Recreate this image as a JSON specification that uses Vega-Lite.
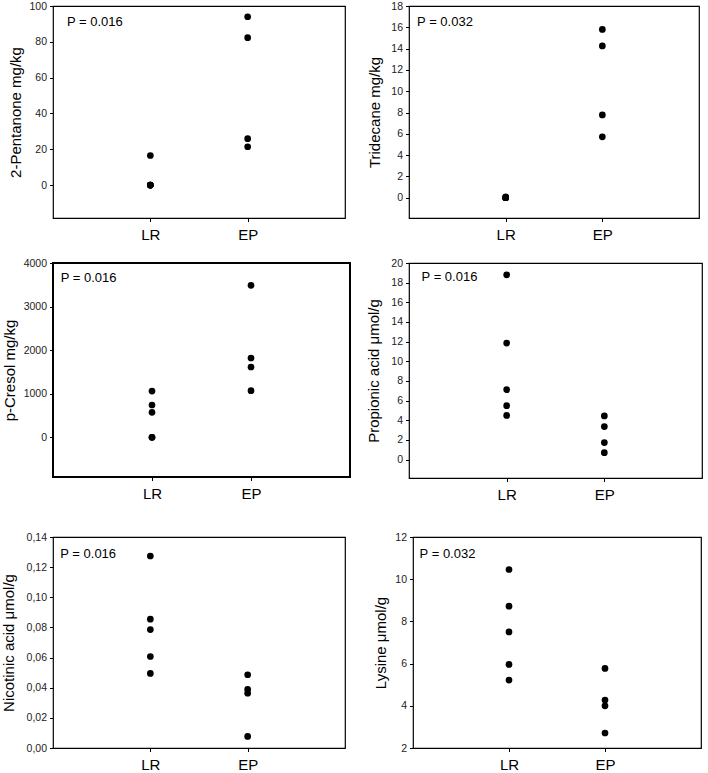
{
  "$schema": "https://vega.github.io/schema/vega-lite/v6.json",
  "padding": {"left": 1, "top": 0, "right": 0, "bottom": 0},
  "background": "white",
  "datasets": {
    "points": [
      {"panel": "p1", "group": "LR", "value": 16.5},
      {"panel": "p1", "group": "LR", "value": 0},
      {"panel": "p1", "group": "LR", "value": 0},
      {"panel": "p1", "group": "LR", "value": 0},
      {"panel": "p1", "group": "LR", "value": 0},
      {"panel": "p1", "group": "EP", "value": 94},
      {"panel": "p1", "group": "EP", "value": 82.3},
      {"panel": "p1", "group": "EP", "value": 25.9},
      {"panel": "p1", "group": "EP", "value": 21.4},
      {"panel": "p2", "group": "LR", "value": 0.08},
      {"panel": "p2", "group": "LR", "value": 0},
      {"panel": "p2", "group": "LR", "value": 0},
      {"panel": "p2", "group": "LR", "value": 0},
      {"panel": "p2", "group": "LR", "value": 0},
      {"panel": "p2", "group": "EP", "value": 15.8},
      {"panel": "p2", "group": "EP", "value": 14.25},
      {"panel": "p2", "group": "EP", "value": 7.78},
      {"panel": "p2", "group": "EP", "value": 5.72},
      {"panel": "p3", "group": "LR", "value": 1062},
      {"panel": "p3", "group": "LR", "value": 741},
      {"panel": "p3", "group": "LR", "value": 573},
      {"panel": "p3", "group": "LR", "value": 0},
      {"panel": "p3", "group": "LR", "value": 0},
      {"panel": "p3", "group": "EP", "value": 3488},
      {"panel": "p3", "group": "EP", "value": 1820},
      {"panel": "p3", "group": "EP", "value": 1613},
      {"panel": "p3", "group": "EP", "value": 1070},
      {"panel": "p4", "group": "LR", "value": 18.8},
      {"panel": "p4", "group": "LR", "value": 11.86},
      {"panel": "p4", "group": "LR", "value": 7.12},
      {"panel": "p4", "group": "LR", "value": 5.49},
      {"panel": "p4", "group": "LR", "value": 4.5},
      {"panel": "p4", "group": "EP", "value": 4.44},
      {"panel": "p4", "group": "EP", "value": 3.36},
      {"panel": "p4", "group": "EP", "value": 1.73},
      {"panel": "p4", "group": "EP", "value": 0.71},
      {"panel": "p5", "group": "LR", "value": 0.1274},
      {"panel": "p5", "group": "LR", "value": 0.0855},
      {"panel": "p5", "group": "LR", "value": 0.0786},
      {"panel": "p5", "group": "LR", "value": 0.0607},
      {"panel": "p5", "group": "LR", "value": 0.0495},
      {"panel": "p5", "group": "EP", "value": 0.0486},
      {"panel": "p5", "group": "EP", "value": 0.0389},
      {"panel": "p5", "group": "EP", "value": 0.0364},
      {"panel": "p5", "group": "EP", "value": 0.0077},
      {"panel": "p6", "group": "LR", "value": 10.46},
      {"panel": "p6", "group": "LR", "value": 8.72},
      {"panel": "p6", "group": "LR", "value": 7.5},
      {"panel": "p6", "group": "LR", "value": 5.96},
      {"panel": "p6", "group": "LR", "value": 5.22},
      {"panel": "p6", "group": "EP", "value": 5.77},
      {"panel": "p6", "group": "EP", "value": 4.27},
      {"panel": "p6", "group": "EP", "value": 4.0},
      {"panel": "p6", "group": "EP", "value": 2.71}
    ],
    "pvals": [
      {"panel": "p1", "label": "P = 0.016"},
      {"panel": "p2", "label": "P = 0.032"},
      {"panel": "p3", "label": "P = 0.016"},
      {"panel": "p4", "label": "P = 0.016"},
      {"panel": "p5", "label": "P = 0.016"},
      {"panel": "p6", "label": "P = 0.032"}
    ]
  },
  "vconcat": [
    {
      "vconcat": [
        {
          "hconcat": [
            {
              "width": 292, "height": 212,
              "layer": [
                {
                  "data": {"name": "points"},
                  "transform": [{"filter": "datum.panel === 'p1'"}],
                  "mark": {"type": "circle", "size": 45, "color": "black", "opacity": 1},
                  "encoding": {
                    "x": {"field": "group", "type": "nominal", "sort": ["LR", "EP"], "scale": {"type": "point", "padding": 1}, "axis": {"title": null}},
                    "y": {"field": "value", "type": "quantitative", "scale": {"domain": [-18.4, 100], "nice": false, "zero": false}, "axis": {"title": "2-Pentanone mg/kg", "values": [0, 20, 40, 60, 80, 100], "tickCount": 40, "format": "d", "titlePadding": 5.4}}
                  }
                },
                {
                  "data": {"name": "pvals"},
                  "transform": [{"filter": "datum.panel === 'p1'"}],
                  "mark": {"type": "text", "align": "left", "baseline": "middle", "fontSize": 13, "font": "Liberation Sans", "color": "black"},
                  "encoding": {
                    "x": {"datum": 0.048, "type": "quantitative", "scale": {"domain": [0, 1]}, "axis": null},
                    "y": {"datum": 91.2, "type": "quantitative"},
                    "text": {"field": "label"}
                  }
                }
              ],
              "resolve": {"scale": {"x": "independent"}}
            },
            {
              "width": 290, "height": 212,
              "layer": [
                {
                  "data": {"name": "points"},
                  "transform": [{"filter": "datum.panel === 'p2'"}],
                  "mark": {"type": "circle", "size": 45, "color": "black", "opacity": 1},
                  "encoding": {
                    "x": {"field": "group", "type": "nominal", "sort": ["LR", "EP"], "scale": {"type": "point", "padding": 1}, "axis": {"title": null}},
                    "y": {"field": "value", "type": "quantitative", "scale": {"domain": [-1.9, 18], "nice": false, "zero": false}, "axis": {"title": "Tridecane mg/kg", "values": [0, 2, 4, 6, 8, 10, 12, 14, 16, 18], "tickCount": 40, "format": "d", "titlePadding": 8.5}}
                  }
                },
                {
                  "data": {"name": "pvals"},
                  "transform": [{"filter": "datum.panel === 'p2'"}],
                  "mark": {"type": "text", "align": "left", "baseline": "middle", "fontSize": 13, "font": "Liberation Sans", "color": "black"},
                  "encoding": {
                    "x": {"datum": 0.028, "type": "quantitative", "scale": {"domain": [0, 1]}, "axis": null},
                    "y": {"datum": 16.53, "type": "quantitative"},
                    "text": {"field": "label"}
                  }
                }
              ],
              "resolve": {"scale": {"x": "independent"}}
            }
          ],
          "spacing": 20
        },
        {
          "hconcat": [
            {
              "width": 297, "height": 214,
              "view": {"stroke": "black", "strokeWidth": 2},
              "layer": [
                {
                  "data": {"name": "points"},
                  "transform": [{"filter": "datum.panel === 'p3'"}],
                  "mark": {"type": "circle", "size": 45, "color": "black", "opacity": 1},
                  "encoding": {
                    "x": {"field": "group", "type": "nominal", "sort": ["LR", "EP"], "scale": {"type": "point", "padding": 1}, "axis": {"title": null}},
                    "y": {"field": "value", "type": "quantitative", "scale": {"domain": [-911, 4000], "nice": false, "zero": false}, "axis": {"title": "p-Cresol mg/kg", "values": [0, 1000, 2000, 3000, 4000], "tickCount": 40, "format": "d", "titlePadding": 5.8}}
                  }
                },
                {
                  "data": {"name": "pvals"},
                  "transform": [{"filter": "datum.panel === 'p3'"}],
                  "mark": {"type": "text", "align": "left", "baseline": "middle", "fontSize": 13, "font": "Liberation Sans", "color": "black"},
                  "encoding": {
                    "x": {"datum": 0.026, "type": "quantitative", "scale": {"domain": [0, 1]}, "axis": null},
                    "y": {"datum": 3656, "type": "quantitative"},
                    "text": {"field": "label"}
                  }
                }
              ],
              "resolve": {"scale": {"x": "independent"}}
            },
            {
              "width": 293, "height": 215,
              "layer": [
                {
                  "data": {"name": "points"},
                  "transform": [{"filter": "datum.panel === 'p4'"}],
                  "mark": {"type": "circle", "size": 45, "color": "black", "opacity": 1},
                  "encoding": {
                    "x": {"field": "group", "type": "nominal", "sort": ["LR", "EP"], "scale": {"type": "point", "padding": 1}, "axis": {"title": null}},
                    "y": {"field": "value", "type": "quantitative", "scale": {"domain": [-1.87, 20], "nice": false, "zero": false}, "axis": {"title": "Propionic acid μmol/g", "values": [0, 2, 4, 6, 8, 10, 12, 14, 16, 18, 20], "tickCount": 40, "format": "d", "titlePadding": 9.1}}
                  }
                },
                {
                  "data": {"name": "pvals"},
                  "transform": [{"filter": "datum.panel === 'p4'"}],
                  "mark": {"type": "text", "align": "left", "baseline": "middle", "fontSize": 13, "font": "Liberation Sans", "color": "black"},
                  "encoding": {
                    "x": {"datum": 0.043, "type": "quantitative", "scale": {"domain": [0, 1]}, "axis": null},
                    "y": {"datum": 18.55, "type": "quantitative"},
                    "text": {"field": "label"}
                  }
                }
              ],
              "resolve": {"scale": {"x": "independent"}}
            }
          ],
          "spacing": 15
        }
      ],
      "spacing": 13
    },
    {
      "hconcat": [
        {
          "width": 292, "height": 211,
          "layer": [
            {
              "data": {"name": "points"},
              "transform": [{"filter": "datum.panel === 'p5'"}],
              "mark": {"type": "circle", "size": 45, "color": "black", "opacity": 1},
              "encoding": {
                "x": {"field": "group", "type": "nominal", "sort": ["LR", "EP"], "scale": {"type": "point", "padding": 1}, "axis": {"title": null}},
                "y": {"field": "value", "type": "quantitative", "scale": {"domain": [0, 0.14], "nice": false, "zero": false}, "axis": {"title": "Nicotinic acid μmol/g", "values": [0, 0.02, 0.04, 0.06, 0.08, 0.1, 0.12, 0.14], "tickCount": 40, "format": ".2f", "labelExpr": "replace(datum.label, '.', ',')", "titlePadding": 9.1}}
              }
            },
            {
              "data": {"name": "pvals"},
              "transform": [{"filter": "datum.panel === 'p5'"}],
              "mark": {"type": "text", "align": "left", "baseline": "middle", "fontSize": 13, "font": "Liberation Sans", "color": "black"},
              "encoding": {
                "x": {"datum": 0.025, "type": "quantitative", "scale": {"domain": [0, 1]}, "axis": null},
                "y": {"datum": 0.129, "type": "quantitative"},
                "text": {"field": "label"}
              }
            }
          ],
          "resolve": {"scale": {"x": "independent"}}
        },
        {
          "width": 288, "height": 211,
          "layer": [
            {
              "data": {"name": "points"},
              "transform": [{"filter": "datum.panel === 'p6'"}],
              "mark": {"type": "circle", "size": 45, "color": "black", "opacity": 1},
              "encoding": {
                "x": {"field": "group", "type": "nominal", "sort": ["LR", "EP"], "scale": {"type": "point", "padding": 1}, "axis": {"title": null}},
                "y": {"field": "value", "type": "quantitative", "scale": {"domain": [2, 12], "nice": false, "zero": false}, "axis": {"title": "Lysine μmol/g", "values": [2, 4, 6, 8, 10, 12], "tickCount": 40, "format": "d", "titlePadding": 6.8}}
              }
            },
            {
              "data": {"name": "pvals"},
              "transform": [{"filter": "datum.panel === 'p6'"}],
              "mark": {"type": "text", "align": "left", "baseline": "middle", "fontSize": 13, "font": "Liberation Sans", "color": "black"},
              "encoding": {
                "x": {"datum": 0.023, "type": "quantitative", "scale": {"domain": [0, 1]}, "axis": null},
                "y": {"datum": 11.21, "type": "quantitative"},
                "text": {"field": "label"}
              }
            }
          ],
          "resolve": {"scale": {"x": "independent"}}
        }
      ],
      "spacing": 26
    }
  ],
  "spacing": 27,
  "config": {
    "font": "Liberation Sans",
    "view": {"stroke": "black", "strokeWidth": 1.2},
    "axis": {
      "domain": false,
      "grid": false,
      "ticks": true,
      "tickColor": "black",
      "tickSize": 3.5,
      "labelOverlap": false,
      "labelFont": "Liberation Sans",
      "labelColor": "#222222",
      "titleFont": "Liberation Sans",
      "titleFontWeight": "normal",
      "titleColor": "black"
    },
    "axisY": {"labelFontSize": 10.5, "titleFontSize": 15, "labelPadding": 3},
    "axisX": {"labelFontSize": 15, "labelPadding": 6, "labelAngle": 0, "labelColor": "black"}
  }
}
